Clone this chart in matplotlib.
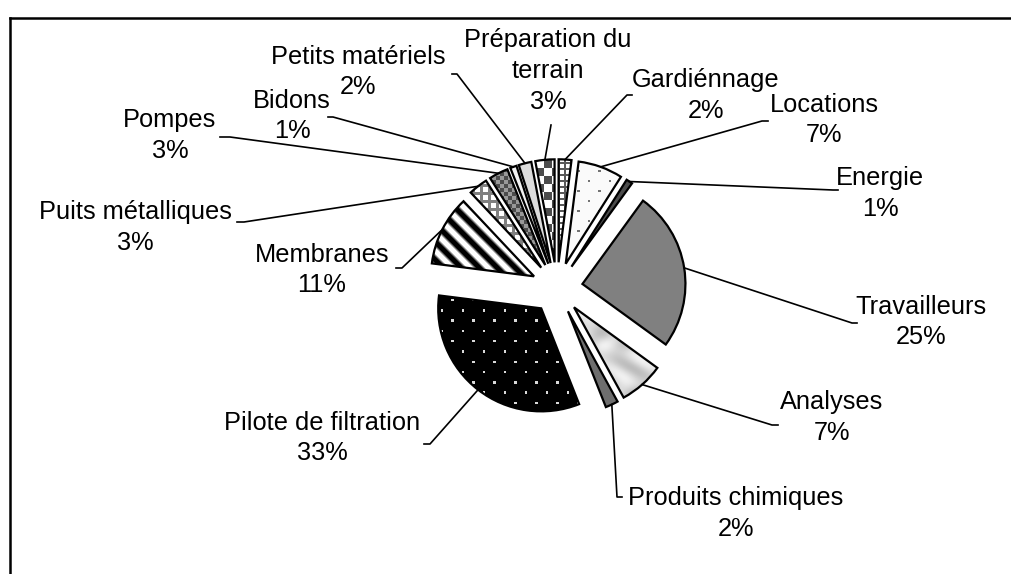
import numpy as np
import matplotlib.pyplot as plt
from matplotlib.lines import Line2D

labels = ['Préparation du\nterrain', 'Gardiénnage', 'Locations', 'Energie', 'Travailleurs',
          'Analyses', 'Produits chimiques', 'Pilote de filtration', 'Membranes',
          'Puits métalliques', 'Pompes', 'Bidons', 'Petits matériels']
shares = [3, 2, 7, 1, 25, 7, 2, 33, 11, 3, 3, 1, 2]

W, H = 1012, 574
CX, CY, R = 557, 288, 103   # pie centre and radius in pixels
LINE_H = 31                 # text line pitch in pixels

# label block centres, leader bends and stub lengths (pixels, origin top-left)
label_xy = [(548, 71), (706, 96), (824, 120), (880, 193), (921, 322), (832, 417),
            (736, 514), (322, 438), (322, 270), (135, 227), (170, 136), (292, 116), (358, 72)]
bend_xy = [(551, 125), (627, 95), (762, 121), (833, 190), (852, 323), (772, 425),
           (617, 497), (430, 444), (402, 268), (244, 222), (230, 137), (333, 117), (457, 74)]
stub = [0, 5, 6, 5, 5, 6, 5, -6, -6, -7, -10, -5, -5]


def px(x, y):
    return (x - CX) / R, (CY - y) / R


# fill textures, grey level as a function of pixel position
def checker(X, Y):
    return np.where(((X // 8) + (Y // 8)) % 2 == 0, 0.3, 1.0)

def small_grid(X, Y):
    return np.where((X % 6 < 2) | (Y % 6 < 2), 0.35, 1.0)

def sparse_dots(X, Y):
    row = Y // 10
    xs = (X + (row % 2) * 10.5) % 21
    return np.where((xs < 2.5) & (Y % 10 < 2.5), 0.45, 0.98)

def flat(v):
    return lambda X, Y: np.full_like(X, v)

def marble(X, Y):
    return 0.84 + 0.06 * np.sin(X / 6.0 + 2 * np.sin(Y / 9.0)) + 0.04 * np.cos(Y / 4.0 - X / 11.0)

def dots_on_black(X, Y):
    row = np.floor(Y / 10.3)
    xs = (X + (row % 2) * 10.5) % 21
    return np.where((xs < 2.5) & (Y % 10.3 < 2.5), 0.85, 0.0)

def bands(X, Y):
    return np.clip(0.5 + 0.8 * np.sin(2 * np.pi * (X - Y) / 18), 0, 1)

def plaid(X, Y):
    return np.where((X % 8 < 3) | (Y % 8 < 3), 0.5, 1.0)

def mottled(X, Y):
    return np.where(((X // 4) + (Y // 4)) % 2 == 0, 0.3, 0.6)

textures = [checker, small_grid, sparse_dots, flat(0.3), flat(0.5), marble, flat(0.43),
            dots_on_black, bands, plaid, mottled, flat(0.95), flat(0.86)]

plt.rcParams['font.family'] = ['Liberation Sans', 'DejaVu Sans']

fig = plt.figure(figsize=(W / 100, H / 100), dpi=100)
ax = fig.add_axes([0, 0, 1, 1])
ax.axis('off')

explode = [0.25] * len(shares)
wedges, _ = ax.pie(shares, explode=explode, startangle=100.8, counterclock=False, radius=1,
                   wedgeprops=dict(facecolor='none', edgecolor='black', linewidth=1.6))

for w, tex in zip(wedges, textures):
    x0, y0 = w.center
    left, top = np.floor(CX + (x0 - 1) * R), np.floor(CY - (y0 + 1) * R)
    n = int(2 * R) + 2
    X, Y = np.meshgrid(left + np.arange(n) + 0.5, top + np.arange(n) + 0.5)
    img = tex(X, Y)
    ext = ((left - CX) / R, (left + n - CX) / R, (CY - top - n) / R, (CY - top) / R)
    im = ax.imshow(img, cmap='gray', vmin=0, vmax=1, extent=ext, origin='upper',
                   interpolation='nearest', zorder=0.5)
    im.set_clip_path(w)
    w.set_zorder(1)

# leader lines from the middle of each outer arc to its label
for w, b, s in zip(wedges, bend_xy, stub):
    mid = np.deg2rad((w.theta1 + w.theta2) / 2)
    sx, sy = w.center[0] + np.cos(mid), w.center[1] + np.sin(mid)
    bx, by = px(*b)
    ex, ey = px(b[0] + s, b[1])
    ax.plot([sx, bx, ex], [sy, by, ey], color='black', lw=1.2, zorder=3)

# one text per line so each line keeps its own box
for lab, v, (lx, ly) in zip(labels, shares, label_xy):
    lines = lab.split('\n') + [f'{v}%']
    k = len(lines)
    for i, line in enumerate(lines):
        tx, ty = px(lx, ly + (i - (k - 1) / 2) * LINE_H)
        ax.text(tx, ty, line, ha='center', va='center', fontsize=18.3, zorder=4)

ax.set_xlim(-CX / R, (W - CX) / R)
ax.set_ylim((CY - H) / R, CY / R)
ax.set_aspect('auto')

# chart frame: only the left and top edges fall inside the image
fx, fy = 10 / W, 1 - 18 / H
fig.add_artist(Line2D([fx, fx], [0, fy], color='black', lw=1.8, transform=fig.transFigure))
fig.add_artist(Line2D([fx, 1], [fy, fy], color='black', lw=1.8, transform=fig.transFigure))

fig.savefig('out.png', dpi=100, facecolor='white')
